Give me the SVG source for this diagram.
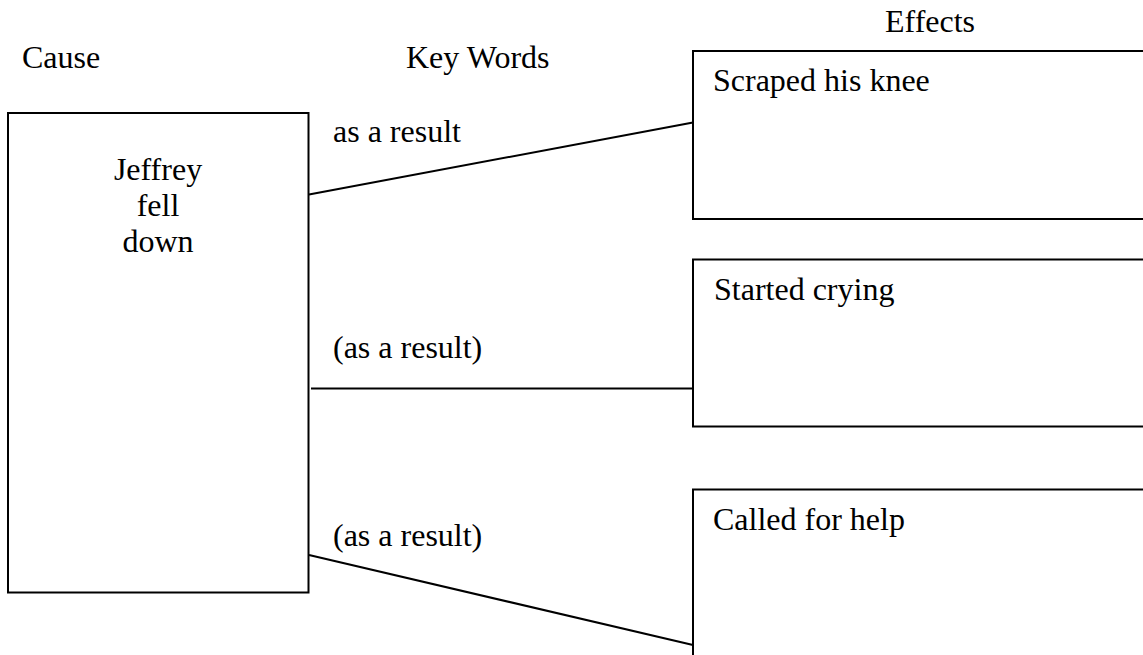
<svg xmlns="http://www.w3.org/2000/svg" width="1143" height="655" viewBox="0 0 1143 655" font-family="'Liberation Serif', Tinos, 'Times New Roman', 'Nimbus Roman', 'DejaVu Serif', serif">
<style>
text{font-family:'Liberation Serif',Tinos,'Times New Roman','Nimbus Roman','DejaVu Serif',serif;font-size:32px;fill:#000}
.box{fill:#fff;stroke:#000;stroke-width:2}
.conn{stroke:#000;stroke-width:2;fill:none}
</style>
<rect width="1143" height="655" fill="#fff"/>
<g id="headers">
<text x="22" y="68">Cause</text>
<text x="406" y="68">Key Words</text>
<text x="885" y="32">Effects</text>
</g>
<g id="cause">
<rect class="box" x="8" y="113" width="300.5" height="479.5"/>
<text x="158" y="180" text-anchor="middle">Jeffrey</text>
<text x="158" y="216" text-anchor="middle">fell</text>
<text x="158" y="252" text-anchor="middle">down</text>
</g>
<g id="effect1">
<rect class="box" x="693" y="51" width="460" height="168"/>
<text x="713" y="91">Scraped his knee</text>
</g>
<g id="effect2">
<rect class="box" x="693" y="259.5" width="460" height="167"/>
<text x="714" y="300">Started crying</text>
</g>
<g id="effect3">
<rect class="box" x="693" y="489.5" width="460" height="180"/>
<text x="713" y="530">Called for help</text>
</g>
<g id="connectors">
<line class="conn" x1="309" y1="194.5" x2="693" y2="122.5"/>
<line class="conn" x1="311" y1="388.5" x2="693" y2="388.5"/>
<line class="conn" x1="309" y1="555" x2="693" y2="645"/>
</g>
<g id="labels">
<text x="333" y="142">as a result</text>
<text x="333" y="358">(as a result)</text>
<text x="333" y="546">(as a result)</text>
</g>
</svg>
